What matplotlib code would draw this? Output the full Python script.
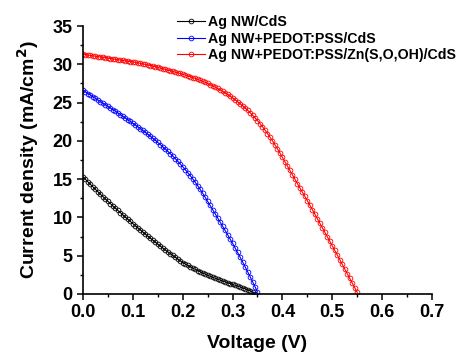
import numpy as np
import matplotlib
matplotlib.use("Agg")
import matplotlib.pyplot as plt
from matplotlib.ticker import MultipleLocator

# Voltage step 0.005 V
step = 0.005

labels = ["Ag NW/CdS", "Ag NW+PEDOT:PSS/CdS", "Ag NW+PEDOT:PSS/Zn(S,O,OH)/CdS"]
colors = ["black", "blue", "red"]

j_cds = [15.30, 14.97, 14.64, 14.31, 13.99, 13.67, 13.35, 13.03, 12.72, 12.41,
         12.10, 11.80, 11.50, 11.20, 10.91, 10.62, 10.33, 10.04, 9.76, 9.48,
         9.20, 8.92, 8.64, 8.37, 8.10, 7.83, 7.56, 7.29, 7.03, 6.77,
         6.51, 6.26, 6.01, 5.76, 5.52, 5.28, 5.04, 4.80, 4.57, 4.34,
         4.11, 3.92, 3.74, 3.56, 3.39, 3.22, 3.06, 2.90, 2.75, 2.60,
         2.45, 2.32, 2.19, 2.06, 1.94, 1.82, 1.70, 1.58, 1.47, 1.36,
         1.25, 1.14, 1.03, 0.92, 0.80, 0.68, 0.55, 0.41, 0.25, 0.06]

j_pedot = [26.60, 26.39, 26.18, 25.97, 25.76, 25.55, 25.34, 25.13, 24.92, 24.71,
           24.50, 24.29, 24.08, 23.87, 23.65, 23.43, 23.21, 22.99, 22.76, 22.53,
           22.30, 22.07, 21.84, 21.60, 21.36, 21.11, 20.86, 20.60, 20.34, 20.07,
           19.80, 19.52, 19.23, 18.94, 18.64, 18.33, 18.01, 17.68, 17.34, 16.99,
           16.63, 16.25, 15.86, 15.46, 15.04, 14.60, 14.14, 13.66, 13.16, 12.64,
           12.10, 11.56, 11.02, 10.48, 9.94, 9.40, 8.85, 8.30, 7.75, 7.19,
           6.63, 6.03, 5.43, 4.82, 4.20, 3.57, 2.93, 2.28, 1.62, 0.95, 0.27]

j_zn = [31.30, 31.25, 31.20, 31.15, 31.10, 31.05, 31.00, 30.95, 30.90, 30.85,
        30.80, 30.75, 30.70, 30.65, 30.60, 30.55, 30.50, 30.45, 30.40, 30.35,
        30.30, 30.24, 30.18, 30.12, 30.05, 29.98, 29.91, 29.84, 29.76, 29.68,
        29.60, 29.52, 29.43, 29.34, 29.25, 29.16, 29.07, 28.98, 28.89, 28.80,
        28.70, 28.60, 28.49, 28.38, 28.27, 28.15, 28.03, 27.91, 27.78, 27.64,
        27.50, 27.35, 27.19, 27.02, 26.84, 26.66, 26.47, 26.27, 26.06, 25.84,
        25.61, 25.37, 25.12, 24.86, 24.59, 24.31, 24.01, 23.69, 23.36, 23.01,
        22.64, 22.25, 21.84, 21.41, 20.96, 20.49, 20.00, 19.49, 18.96, 18.41,
        17.84, 17.27, 16.70, 16.13, 15.56, 14.99, 14.42, 13.86, 13.30, 12.74,
        12.18, 11.60, 11.01, 10.42, 9.83, 9.24, 8.65, 8.06, 7.47, 6.88,
        6.29, 5.69, 5.09, 4.48, 3.87, 3.26, 2.65, 2.04, 1.43, 0.82, 0.21]

series = [j_cds, j_pedot, j_zn]

plt.rcParams['font.family'] = ['Liberation Sans', 'DejaVu Sans']
plt.rcParams['font.weight'] = 'bold'

fig = plt.figure(figsize=(4.59, 3.52), dpi=100)
ax = fig.add_axes([0.1808, 0.1648, 0.9412 - 0.1808, 0.9261 - 0.1648])

for j, c, lab in zip(series, colors, labels):
    v = np.arange(len(j)) * step
    ax.plot(v, j, color=c, lw=0.8, marker='o', ms=3.4, mfc='none',
            mec=c, mew=0.6, label=lab)

ax.set_xlim(0, 0.7)
ax.set_ylim(0, 35)
ax.xaxis.set_major_locator(MultipleLocator(0.1))
ax.xaxis.set_minor_locator(MultipleLocator(0.05))
ax.yaxis.set_major_locator(MultipleLocator(5))
ax.yaxis.set_minor_locator(MultipleLocator(2.5))
ax.xaxis.set_major_formatter(matplotlib.ticker.FormatStrFormatter('%.1f'))

for s in ['top', 'right']:
    ax.spines[s].set_visible(False)
for s in ['left', 'bottom']:
    ax.spines[s].set_linewidth(1.2)
ax.tick_params(which='major', direction='out', length=4.5, width=1.1,
               labelsize=13, pad=3)
ax.tick_params(which='minor', direction='out', length=2.5, width=1.0)
for t in ax.get_xticklabels() + ax.get_yticklabels():
    t.set_fontweight('bold')

ax.set_xlabel('Voltage (V)', fontsize=14, fontweight='bold', labelpad=10)
ax.set_ylabel('Current density (mA/cm$^\\mathbf{2}$)', fontsize=14,
              fontweight='bold', labelpad=8)

leg = fig.legend(loc='upper left', bbox_to_anchor=(0.386, 0.957),
                 frameon=False, fontsize=10.2, handlelength=1.95,
                 handletextpad=0.25, labelspacing=0.18, borderpad=0,
                 borderaxespad=0)
for t in leg.get_texts():
    t.set_fontweight('bold')

fig.savefig('out.png', dpi=100)
